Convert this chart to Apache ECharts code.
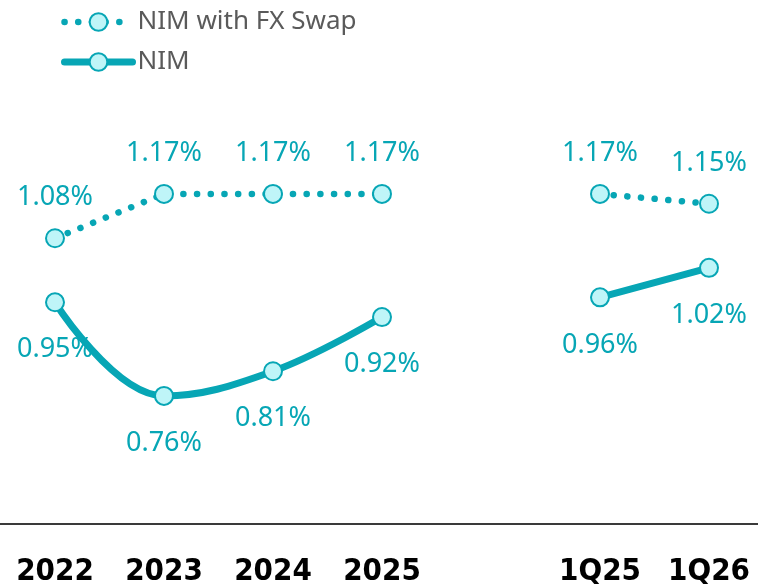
<!DOCTYPE html>
<html>
<head>
<meta charset="utf-8">
<script src="https://cdn.jsdelivr.net/npm/echarts@6/dist/echarts.min.js"></script>
<style>
  html, body { margin: 0; padding: 0; background: #fff; }
  #chart { width: 758px; height: 588px; }
</style>
</head>
<body>
<div id="chart"></div>
<script>
// categories (blank slot separates the years from the quarters)
const categories = ['2022', '2023', '2024', '2025', '', '1Q25', '1Q26'];
const nimFxSwap = [1.08, 1.17, 1.17, 1.17, '-', 1.17, 1.15];
const nim = [0.95, 0.76, 0.81, 0.92, '-', 0.96, 1.02];

const teal = '#07a6b5';
const fill = '#bff5f8';
const font = "'Noto Sans', sans-serif";
const dotted = { color: teal, width: 6.5, type: [0.1, 13.6], cap: 'round' };
const solid = { color: teal, width: 7, cap: 'round' };

const chart = echarts.init(document.getElementById('chart'));

const option = {
  animation: false,
  legend: {
    orient: 'vertical',
    left: 56,
    top: 4,
    itemWidth: 68,
    itemHeight: 22,
    itemGap: 14,
    textStyle: { fontSize: 26, color: '#5a5a5a', fontFamily: font, padding: [0, 0, 0, 0] },
    data: [
      { name: 'NIM with FX Swap', lineStyle: dotted },
      { name: 'NIM', lineStyle: solid }
    ]
  },
  grid: { left: 0.5, width: 763, top: 80.6, bottom: 64, outerBoundsMode: 'none', containLabel: false },
  xAxis: {
    type: 'category',
    boundaryGap: true,
    data: categories,
    axisLine: { lineStyle: { color: '#3a3a3a', width: 2 } },
    axisTick: { show: false },
    axisLabel: {
      margin: 32,
      fontSize: 31,
      fontWeight: 'bold',
      color: '#000',
      fontFamily: "'DejaVu Sans Condensed', sans-serif"
    }
  },
  yAxis: {
    type: 'value',
    min: 0.5,
    max: 1.4,
    show: false
  },
  series: [
    {
      name: 'NIM with FX Swap',
      type: 'line',
      data: nimFxSwap,
      symbol: 'circle',
      symbolSize: 18,
      itemStyle: { color: fill, borderColor: teal, borderWidth: 2 },
      lineStyle: dotted,
      label: {
        show: true,
        position: 'top',
        distance: 17,
        fontSize: 27,
        color: teal,
        fontFamily: font,
        formatter: p => p.value.toFixed(2) + '%'
      }
    },
    {
      name: 'NIM',
      type: 'line',
      data: nim,
      smooth: 0.4,
      symbol: 'circle',
      symbolSize: 18,
      itemStyle: { color: fill, borderColor: teal, borderWidth: 2 },
      lineStyle: solid,
      label: {
        show: true,
        position: 'bottom',
        distance: 24,
        fontSize: 27,
        color: teal,
        fontFamily: font,
        formatter: p => p.value.toFixed(2) + '%'
      }
    }
  ]
};

chart.setOption(option);
</script>
</body>
</html>
